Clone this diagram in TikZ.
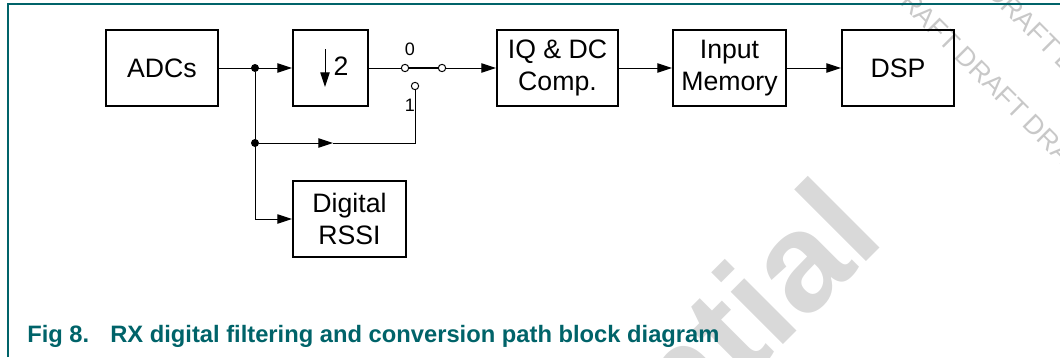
\documentclass[tikz,border=0pt]{standalone}
\usepackage{fontspec}
\setmainfont{Liberation Sans}
\usetikzlibrary{positioning,arrows.meta}
\definecolor{nxpteal}{RGB}{0,99,105}
\definecolor{wmgray}{RGB}{200,200,200}
\definecolor{wmlight}{RGB}{217,217,217}
\tikzset{
	blk/.style args = {#1}{draw, line width=1.5pt, minimum width=#1, minimum height=57pt,
		align=center, inner sep=0pt, font=\fontsize{20}{24}\selectfont},
	blk/.default = 84pt,
	junc/.style = {circle, fill, inner sep=0pt, minimum size=6pt},
	contact/.style = {circle, draw, fill=white, line width=0.75pt, inner sep=0pt, minimum size=5.5pt},
	wire/.style = {line width=0.75pt},
	sig/.style = {wire, -{Triangle[length=11pt,width=7pt]}},
	poslbl/.style = {inner sep=0pt, font=\fontsize{13.5}{16}\selectfont},
	wmark/.style = {inner sep=0pt, text=wmgray, font=\fontsize{20}{24}\selectfont},
	caption/.style = {inner sep=0pt, text=nxpteal, font=\fontsize{17.8}{21}\selectfont\bfseries},
}

\begin{document}
\begin{tikzpicture}[x=0.75pt, y=-0.75pt]
	\useasboundingbox (0,0) rectangle (1060,357);
	% watermark
	\begin{scope}
		\clip (0,0) rectangle (1060,357);
		\node[wmark, rotate=-45, anchor=west] (draftA) at (892,-17) {DRAFT DRAFT DRAFT};
		\node[wmark, rotate=-45, anchor=west] (draftB) at (992,-13) {DRAFT DRAFT};
		\node[inner sep=0pt, text=wmlight, font=\fontsize{105}{110}\selectfont\bfseries,
			rotate=45, anchor=base east] (conf) at (887,241) {confidential};
	\end{scope}
	\draw[nxpteal, line width=1.5pt] (8,357) -- (8,4) -- (1060,4);

	\node[blk] (adc) at (162,68) {ADCs};
	\node[blk=56.25pt] (dec) at (330.5,68) {};
	\node[blk=90.75pt] (iq) at (557.5,68) {IQ \& DC\\Comp.};
	\node[blk=84.75pt] (mem) at (729.5,68) {Input\\Memory};
	\node[blk] (dsp) at (898,68) {DSP};
	\node[blk=84.75pt] (rssi) at (349.5,219) {Digital\\RSSI};

	% decimator symbol
	\draw[sig] (325,49) -- (325,87);
	\node[font=\fontsize{20}{24}\selectfont] (two) at (341,66) {2};

	\node[junc] (j1) at (255,68) {};
	\node[junc] (j2) at (255,143) {};
	\coordinate (mid) at (333,143);

	\node[contact] (sw0) at (405,68) {};
	\node[contact] (swo) at (442,68) {};
	\node[contact] (sw1) at (415,86) {};
	\node[poslbl] (lbl0) at (410,49) {0};
	\node[poslbl] (lbl1) at (410,105) {1};

	\draw[sig] (adc) -- (dec);
	\draw[sig] (j1) |- (rssi.west);
	\draw[sig] (j2) -- (mid);
	\draw[wire] (mid) -| (sw1);
	\draw[wire] (dec) -- (sw0);
	\draw[line width=1.5pt] (sw0) -- (swo);
	\foreach \a/\b in {swo/iq, iq/mem, mem/dsp} {
		\draw[sig] (\a) -- (\b);
	}

	\node[caption, anchor=base west] (fignum) at (27,342) {Fig 8.};
	\node[caption, anchor=base west] (figtitle) at (110,342) {RX digital filtering and conversion path block diagram};
\end{tikzpicture}
\end{document}
